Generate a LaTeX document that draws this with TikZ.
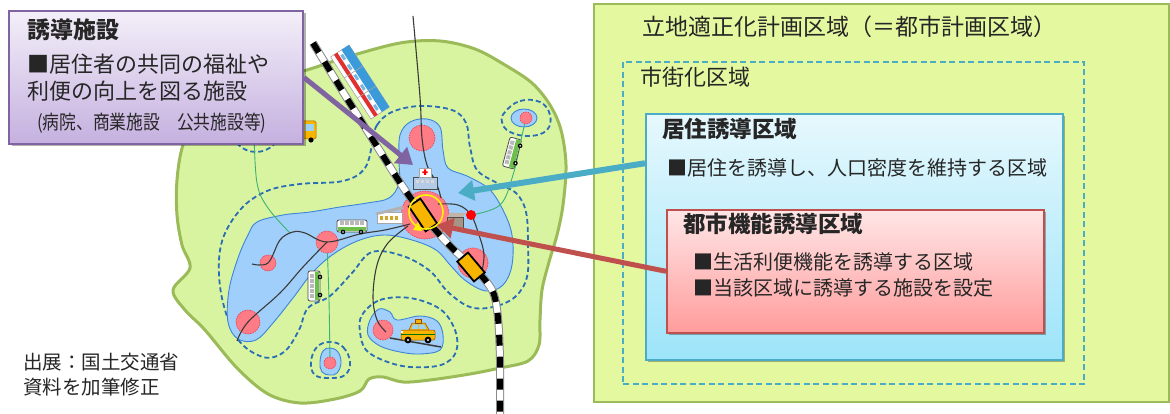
\documentclass[tikz,border=0pt]{standalone}
\usepackage{fontspec}
\usepackage{graphicx}
\setmainfont{Noto Sans CJK JP}
\usetikzlibrary{arrows.meta,shadows,calc}

\definecolor{ink}{HTML}{262626}
\definecolor{planFill}{HTML}{E4F8A0}
\definecolor{planLine}{HTML}{9BBB59}
\definecolor{cityFill}{HTML}{D9F4A1}
\definecolor{urbanLine}{HTML}{4BACC6}
\definecolor{resTop}{HTML}{E6F8FD}
\definecolor{resBot}{HTML}{9DE4FA}
\definecolor{resLine}{HTML}{4BACC6}
\definecolor{funTop}{HTML}{FFE6E6}
\definecolor{funBot}{HTML}{FF9C9C}
\definecolor{funLine}{HTML}{C0504D}
\definecolor{facTop}{HTML}{F3EFF9}
\definecolor{facBot}{HTML}{C5B0DF}
\definecolor{facLine}{HTML}{8064A2}
\definecolor{lakeFill}{HTML}{9FCFFA}
\definecolor{lakeLine}{HTML}{3D85D8}
\definecolor{contourBlue}{HTML}{2A6EB6}
\definecolor{coreFill}{HTML}{FF7B85}
\definecolor{coreLine}{HTML}{E8414F}
\definecolor{routeGray}{HTML}{3A3A3A}
\definecolor{feederGreen}{HTML}{3CB371}
\definecolor{railGray}{HTML}{8A8A8A}
\definecolor{carYellow}{HTML}{F7B500}
\definecolor{ringYellow}{HTML}{FFF200}
\definecolor{busGreen}{HTML}{6CC04A}
\definecolor{skyWin}{HTML}{9CD3F5}
\definecolor{trainBlue}{HTML}{3B9AD9}
\definecolor{trainRed}{HTML}{E03030}
\definecolor{hospBlue}{HTML}{B3CBE6}
\definecolor{crateBrown}{HTML}{A89484}

\newcommand{\setfs}[1]{\fontsize{#1pt}{#1pt}\selectfont}

\tikzset{
  txt/.style={inner sep=0pt, anchor=west, text=ink},
  head/.style={txt, font=\setfs{22.5}\bfseries},
  body/.style={txt, font=\setfs{20}},
  panel/.style={anchor=north west, inner sep=0pt, line width=1.6pt},
  boxshadow/.style={drop shadow={shadow xshift=2.5pt, shadow yshift=-2.5pt, opacity=0.3, fill=black}},
  lake/.style={fill=lakeFill, draw=lakeLine, line width=0.9pt},
  contour/.style={draw=contourBlue, line width=1.8pt, dash pattern=on 5pt off 3pt},
  core/.style={fill=coreFill, draw=coreLine, line width=0.6pt, dash pattern=on 1.5pt off 1pt},
  route/.style={draw=routeGray, line width=1.1pt},
  feeder/.style={draw=feederGreen, line width=0.9pt},
  callout/.style={line width=5pt, -{Triangle[length=16pt,width=20pt]}},
  railcar/.style={fill=carYellow, draw=black, line width=1.8pt},
  citybus/.pic={
    \draw[draw=gray!60!black, fill=white, line width=0.8pt, rounded corners=2pt] (-15,-6) rectangle (15,6);
    \fill[busGreen] (-14.4,0.6) rectangle (14.4,5.4);
    \foreach \u in {-12,-7,-2,3,8} \fill[gray!55] (\u,-4.5) rectangle ++(4,4);
    \fill[black] (-9,6) circle[radius=2.3] (9,6) circle[radius=2.3];
    \fill[white] (-9,6) circle[radius=0.9] (9,6) circle[radius=0.9];
  },
  taxi/.pic={
    \fill[carYellow, draw=orange!60!black, line width=0.5pt] (-9,-2) -- (-6,-9) -- (7,-9) -- (11,-2) -- cycle;
    \fill[skyWin] (-6.6,-3) -- (-4.8,-7.6) -- (0,-7.6) -- (0,-3) -- cycle;
    \fill[skyWin] (1,-3) -- (1,-7.6) -- (6,-7.6) -- (8.6,-3) -- cycle;
    \fill[carYellow, draw=orange!60!black, line width=0.5pt, rounded corners=2pt] (-17,-2) rectangle (17,8);
    \fill[green!45!black] (-17,2) rectangle (17,3.4);
    \fill[carYellow, draw=orange!60!black, line width=0.4pt] (-3,-13) rectangle (3,-9);
    \fill[black] (-10,8) circle[radius=3.4] (10,8) circle[radius=3.4];
    \fill[gray!40] (-10,8) circle[radius=1.4] (10,8) circle[radius=1.4];
    \fill[white] (-17,-0.6) rectangle (-15,1.4);
  },
  train/.pic={
    \fill[white, draw=gray!70, line width=0.6pt] (-37,-11) rectangle (37,11);
    \fill[trainBlue] (-37,-11) rectangle (37,-2);
    \fill[trainRed] (-37,3) rectangle (37,7);
    \foreach \u in {-30,-18,-6,6,18,30} \fill[trainBlue!70] (\u-3,-1) rectangle (\u+3,2);
    \draw[gray!70, line width=0.6pt] (-12,-11) -- (-12,11) (12,-11) -- (12,11);
  }
}

\begin{document}
\begin{tikzpicture}[x=1pt,y=-1pt]
\useasboundingbox (0,0) rectangle (1170,414);
\fill[white] (0,0) rectangle (1170,414);

% ---------------- legend panels on the right
\node[panel, fill=planFill, draw=planLine, line width=2.4pt,
      minimum width=575pt, minimum height=398pt] (plan) at (593,3) {};
\node[body, font=\setfs{23}] (planTitle) at (642,27) {立地適正化計画区域（＝都市計画区域）};

\node[panel, draw=urbanLine, line width=2pt, dash pattern=on 6pt off 3.5pt,
      minimum width=461pt, minimum height=322pt] (urban) at (622,61) {};
\node[body, font=\setfs{22}] (urbanTitle) at (640,77) {市街化区域};

\node[panel, top color=resTop, bottom color=resBot, draw=resLine, boxshadow,
      minimum width=417pt, minimum height=246pt] (res) at (645,113) {};
\node[head] (resTitle) at (662,129) {居住誘導区域};
\node[body] (resText) at (667,168) {■居住を誘導し、人口密度を維持する区域};

\node[panel, top color=funTop, bottom color=funBot, draw=funLine, boxshadow,
      minimum width=377pt, minimum height=123pt] (fun) at (666,209) {};
\node[head] (funTitle) at (683,224) {都市機能誘導区域};
\node[body] (funText1) at (693,262) {■生活利便機能を誘導する区域};
\node[body] (funText2) at (693,288) {■当該区域に誘導する施設を設定};

% ---------------- city area
\draw[fill=cityFill, draw=planLine, line width=3pt]
  plot[smooth cycle, tension=0.55] coordinates {
  (300,72) (347,57) (400,43) (440,41) (475,49) (505,65) (532,83) (550,105)
  (561,130) (566,165) (563,205) (557,235) (549,262) (542,290) (540,320)
  (539,345) (528,361) (500,368) (470,374) (430,380) (403,382) (383,377)
  (369,379) (360,391) (335,399) (300,403) (268,394) (237,368) (205,330)
  (185,310) (173,290) (190,268) (182,245) (177,215) (177,180) (183,145)
  (200,110) (245,85)};

% walking-distance contours
\draw[contour] plot[smooth cycle, tension=0.6] coordinates {
  (373,140) (377,125) (392,112) (420,106) (452,110) (466,123) (470,147)
  (477,170) (497,183) (516,193) (526,212) (528,245) (527,277) (515,297)
  (493,307) (470,307) (448,292) (430,271) (403,256) (372,252) (352,273)
  (330,296) (308,308) (299,330) (284,352) (263,357) (237,338) (221,293)
  (221,245) (240,210) (267,191) (300,184) (343,181) (365,168)};
\draw[contour] plot[smooth cycle, tension=0.6] coordinates {
  (362,315) (380,300) (410,298) (440,309) (455,330) (456,352) (441,365)
  (410,367) (385,361) (366,350) (360,332)};
\draw[contour] plot[smooth cycle, tension=0.7] coordinates {
  (330,342) (343,347) (350,362) (345,375) (330,378) (315,375) (311,362) (317,347)};
\draw[contour] plot[smooth cycle, tension=0.7] coordinates {
  (505,112) (520,101) (540,102) (550,115) (547,130) (530,136) (510,132) (502,122)};
\draw[contour] (256,127) circle[radius=25];

% residential areas
\draw[lake] plot[smooth cycle, tension=0.6] coordinates {
  (257,222) (283,215) (310,212) (340,207) (367,203) (389,198) (399,183)
  (399,160) (400,135) (410,122) (427,119) (440,127) (443,150) (448,168)
  (467,176) (489,189) (503,210) (512,235) (512,265) (503,285) (486,291)
  (466,281) (451,266) (436,250) (412,240) (385,235) (360,240) (335,253)
  (313,272) (293,298) (273,323) (256,340) (238,339) (228,322) (229,290)
  (238,258) (248,235)};
\draw[lake] plot[smooth cycle, tension=0.6] coordinates {
  (370,320) (379,309) (390,312) (397,320) (420,316) (437,321) (443,335)
  (440,350) (420,354) (400,352) (380,346) (368,335)};
\draw[lake] plot[smooth cycle, tension=0.7] coordinates {
  (330,348) (338,352) (341,363) (337,373) (330,375) (322,372) (320,362) (323,351)};
\draw[lake] (524,118) ellipse[x radius=13, y radius=9];

% centres
\coordinate (cTop) at (422,138);
\coordinate (cMain) at (425,215);
\coordinate (cJunc) at (327,242);
\coordinate (cWest) at (268,263);
\coordinate (cSouthWest) at (248,322);
\coordinate (cEast) at (473,263);
\coordinate (cTaxi) at (383,330);
\coordinate (cSouth) at (330,363);
\coordinate (cNorthEast) at (526,118);
\coordinate (stop) at (471,215);

% feeder bus lines
\draw[feeder] plot[smooth, tension=0.6] coordinates {(254,132) (257,183) (268,208) (290,233)};
\draw[feeder] plot[smooth, tension=0.6] coordinates {(cJunc) (329,300) (cSouth)};
\draw[feeder] plot[smooth, tension=0.6] coordinates {(stop) (500,205) (513,175) (521,140) (cNorthEast)};

% core circles
\fill[core] (cTop) circle[radius=13];
\fill[core] (cMain) circle[radius=24];
\fill[core] (cJunc) circle[radius=11];
\fill[core] (cWest) circle[radius=8];
\fill[core] (cSouthWest) circle[radius=12];
\fill[core] (cEast) circle[radius=15];
\fill[core] (cTaxi) circle[radius=10];
\fill[core] (cSouth) circle[radius=6];
\fill[core] (cNorthEast) circle[radius=6];

% trunk routes
\draw[route] plot[smooth, tension=0.6] coordinates {(413,16) (420,97) (cTop) (427,165) (436,182) (441,198)};
\draw[route] plot[smooth, tension=0.6] coordinates {(438,204) (458,205) (stop) (479,235) (484,255) (481,276)};
\draw[route] plot[smooth, tension=0.6] coordinates {(410,224) (385,230) (360,234) (cJunc) (305,233) (293,232) (280,240) (cWest) (252,264)};
\draw[route] plot[smooth, tension=0.6] coordinates {(cJunc) (303,267) (280,293) (cSouthWest) (237,341)};
\draw[route] plot[smooth, tension=0.6] coordinates {(408,226) (388,243) (377,265) (373,297) (377,320) (386,332)};
\draw[route, line width=1.5pt] (390,338) -- (441,347);
\fill[red] (stop) circle[radius=5];

% railway
\draw[railGray, line width=8pt,
      postaction={draw=white, line width=6pt},
      postaction={draw=black, line width=6pt, dash pattern=on 11pt off 11pt}]
  plot[smooth, tension=0.5] coordinates {
  (313,43) (343,92) (373,140) (403,187) (427,220) (452,248) (478,272)
  (493,292) (498,318) (500,360) (500,414)};

% trains on the line
\pic[rotate=-57] at (360,82) {train};
\draw[railcar, rotate around={-56:(423,215)}] (408,208) rectangle (438,222);
\draw[railcar, rotate around={-50:(471,267)}] (458,260) rectangle (484,274);
\draw[ringYellow, line width=1.6pt] (426,212) circle[radius=17];
\fill[ringYellow] (413,230) -- (418,222) -- (422,231) -- cycle;

% buildings
\fill[hospBlue, draw=gray!60!black, line width=0.4pt] (413,177) rectangle (437,189);
\foreach \u in {416,421,426,431} \fill[white!70!gray] (\u,180) rectangle ++(3,3);
\fill[white, draw=gray!70, line width=0.4pt] (419,168) rectangle (431,177);
\fill[red] (424,169.5) rectangle (426,175) (422.3,171.3) rectangle (427.7,173.2);

\fill[white, draw=gray!70, line width=0.5pt] (377,212) rectangle (402,223);
\fill[gray!60] (375,213) -- (402,206) -- (404,209) -- (377,215) -- cycle;
\foreach \u in {380,385,390,395} \fill[brown!70!yellow] (\u,216) rectangle ++(3,4);

\fill[crateBrown, draw=gray!60!black, line width=0.3pt] (447,217) rectangle (463,229);
\fill[crateBrown!70!white] (447,217) -- (450,213) -- (466,213) -- (463,217) -- cycle;

% vehicles
\pic at (352,226) {citybus};
\pic[rotate=90] at (314,286) {citybus};
\pic[rotate=75] at (512,153) {citybus};
\pic at (418,332) {taxi};
\fill[carYellow, draw=orange!70!black, line width=0.5pt, rounded corners=1.5pt] (290,121) rectangle (316,139);
\fill[skyWin] (305,124) rectangle (314,131);
\fill[black] (311,140) circle[radius=2.6];

% ---------------- facility box
\node[panel, top color=facTop, bottom color=facBot, draw=facLine, line width=2pt, boxshadow,
      minimum width=294pt, minimum height=133pt] (facility) at (8,10) {};
\node[txt, font=\setfs{23}\bfseries] (facTitle) at (27,30) {誘導施設};
\node[txt, font=\setfs{22}] (facText1) at (27,64) {■居住者の共同の福祉や};
\node[txt, font=\setfs{22}] (facText2) at (27,91) {利便の向上を図る施設};
\node[txt, font=\setfs{19.5}] (facText3) at (37,123) {\scalebox{0.86}[1]{(病院、商業施設　公共施設等)}};

% source note
\node[txt, font=\setfs{19.5}] (src1) at (23,362) {出展：国土交通省};
\node[txt, font=\setfs{19.5}] (src2) at (23,387) {資料を加筆修正};

% ---------------- callout arrows
\coordinate (facTip) at (413,165);
\coordinate (resTip) at (458,193);
\coordinate (funTip) at (437,225);
\coordinate (resOut) at ($(res.north west)!0.203!(res.south west)$);
\draw[callout, facLine] (facility.east) -- (facTip);
\draw[callout, resLine, line width=6pt] (resOut) -- (resTip);
\draw[callout, funLine] (fun.west) -- (funTip);
\end{tikzpicture}
\end{document}
